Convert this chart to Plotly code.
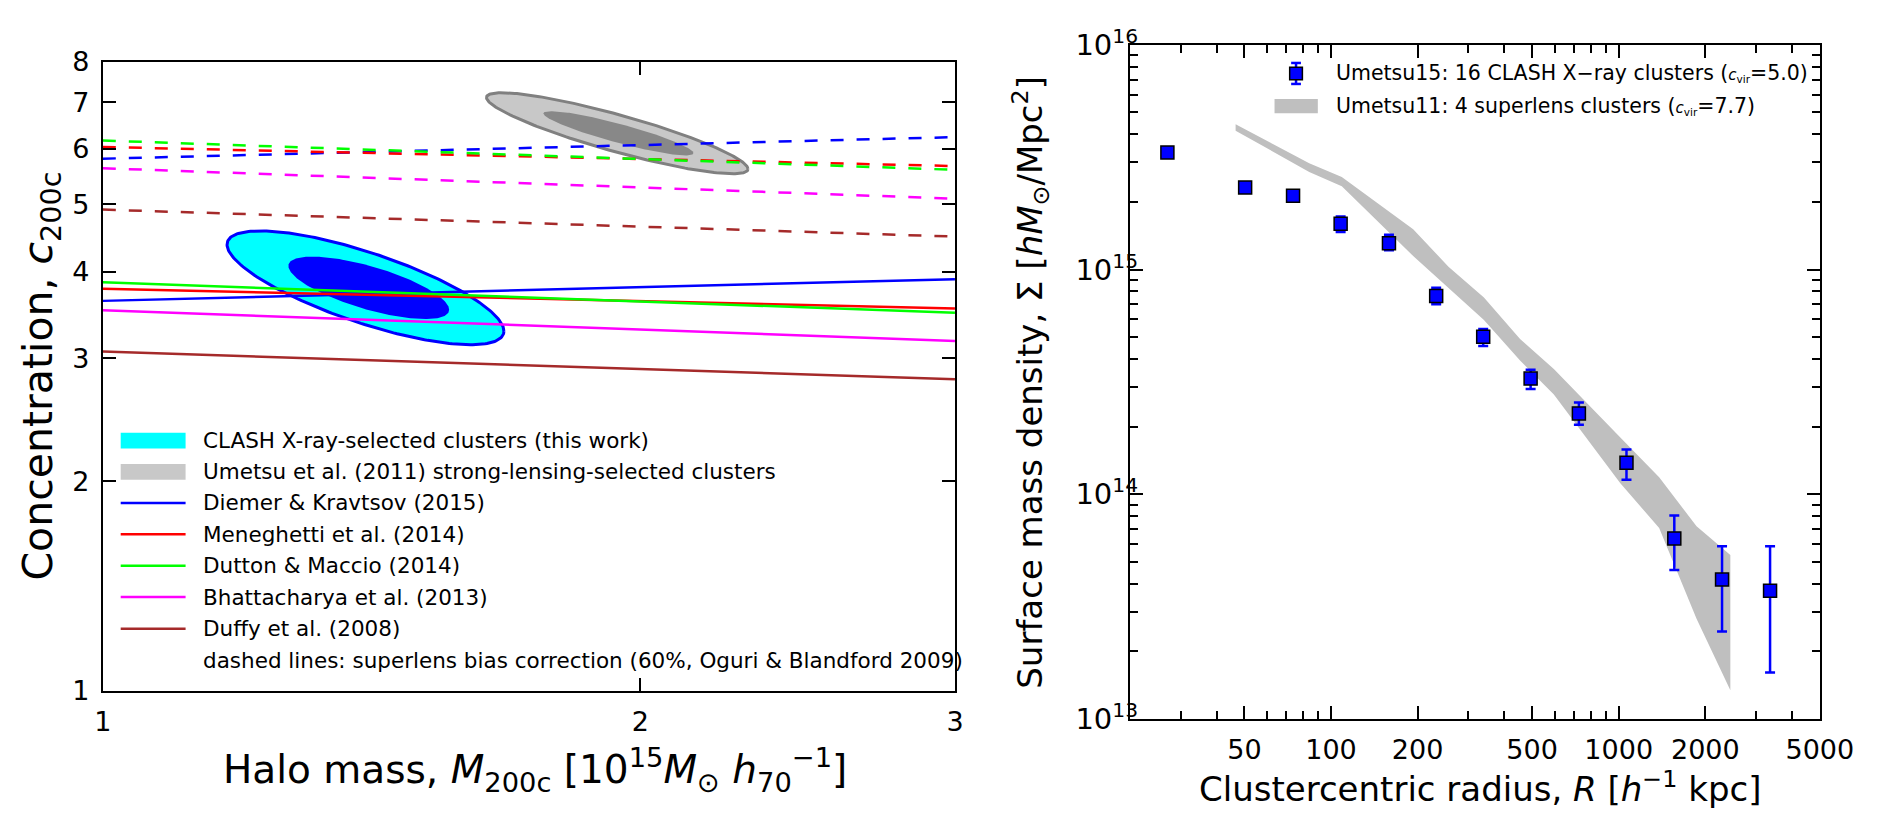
import numpy as np
import plotly.graph_objects as go

W, H = 1890, 823

# ---------------- left panel: concentration-mass relations ----------------
mass_ends = [1.0, 3.0]  # M200c in 10^15 Msun/h70
model_names = [
    "Diemer & Kravtsov (2015)",
    "Meneghetti et al. (2014)",
    "Dutton & Maccio (2014)",
    "Bhattacharya et al. (2013)",
    "Duffy et al. (2008)",
]
model_colors = ["#0000ff", "#ff0000", "#00ff00", "#ff00ff", "#a52a2a"]
c_solid = [[3.63, 3.90], [3.78, 3.54], [3.86, 3.49], [3.52, 3.18], [3.07, 2.80]]
c_dashed = [[5.81, 6.24], [6.04, 5.67], [6.17, 5.60], [5.63, 5.09], [4.91, 4.49]]

# confidence contours: centre (M, c), half-extent in dex along M and c, correlation
clash_outer = dict(m=1.403, c=3.79, dm=0.0775, dc=0.0818, rho=-0.76)
clash_inner = dict(m=1.409, c=3.79, dm=0.0450, dc=0.0449, rho=-0.70)
sl_outer = dict(m=1.941, c=6.32, dm=0.0732, dc=0.0582, rho=-0.882)
sl_inner = dict(m=1.944, c=6.32, dm=0.0420, dc=0.0318, rho=-0.897)

# ---------------- right panel: surface mass density profile ----------------
radius_kpc = [27, 50.3, 73.8, 108, 159, 232, 338, 494, 727, 1064, 1560, 2286, 3357]
sigma = [3.32e15, 2.32e15, 2.13e15, 1.60e15, 1.31e15, 7.62e14, 5.02e14, 3.27e14,
         2.29e14, 1.38e14, 6.36e13, 4.17e13, 3.72e13]
sigma_err_up = [0.10e15, 0.08e15, 0.08e15, 0.12e15, 0.12e15, 0.68e14, 0.42e14, 0.31e14,
                0.27e14, 0.20e14, 1.68e13, 1.70e13, 2.15e13]
sigma_err_down = [0.10e15, 0.08e15, 0.08e15, 0.13e15, 0.09e15, 0.62e14, 0.45e14, 0.33e14,
                  0.25e14, 0.22e14, 1.76e13, 1.72e13, 2.11e13]

band_radius = [46.6, 84, 109, 193, 256, 340, 454, 595, 1013, 1382, 1864, 2443]
band_upper = [4.43e15, 2.97e15, 2.58e15, 1.51e15, 1.03e15, 7.5e14, 4.91e14, 3.61e14,
              1.79e14, 1.19e14, 7.2e13, 5.36e13]
band_lower = [4.15e15, 2.72e15, 2.35e15, 1.15e15, 8.3e14, 5.97e14, 3.94e14, 2.78e14,
              1.12e14, 7.07e13, 2.79e13, 1.34e13]

r_ticks = [50, 100, 200, 500, 1000, 2000, 5000]
r_minor = [30, 40, 60, 70, 80, 90, 300, 400, 600, 700, 800, 900, 3000, 4000]
sigma_ticks = [1e13, 1e14, 1e15, 1e16]
sigma_minor = [k * 10.0 ** n for n in (13, 14, 15) for k in range(2, 10)]

FONT = "DejaVu Sans"
CYAN, BLUE = "#00ffff", "#0000ff"
LGRAY, DGRAY, EDGE = "#c8c8c8", "#888888", "#808080"
BAND = "#bfbfbf"


def ellipse(p, n=240):
    t = np.linspace(0, 2 * np.pi, n)
    lx = np.log10(p["m"]) + p["dm"] * np.cos(t)
    ly = np.log10(p["c"]) + p["dc"] * (p["rho"] * np.cos(t) + np.sqrt(1 - p["rho"] ** 2) * np.sin(t))
    return 10 ** lx, 10 ** ly


fig = go.Figure()

# contours
for p, fill, line in [(clash_outer, CYAN, BLUE), (clash_inner, BLUE, None),
                      (sl_outer, LGRAY, EDGE), (sl_inner, DGRAY, None)]:
    ex, ey = ellipse(p)
    fig.add_trace(go.Scatter(
        x=ex, y=ey, mode="lines", fill="toself", fillcolor=fill,
        line=dict(color=line if line else fill, width=3 if line else 0),
        xaxis="x", yaxis="y", showlegend=False, hoverinfo="skip"))

# model relations: solid = nominal, dashed = superlens-corrected
for name, col, cs, cd in zip(model_names, model_colors, c_solid, c_dashed):
    fig.add_trace(go.Scatter(x=mass_ends, y=cd, mode="lines",
                             line=dict(color=col, width=2.5, dash="13px,13px"),
                             xaxis="x", yaxis="y", showlegend=False, name=name + " (corrected)"))
    fig.add_trace(go.Scatter(x=mass_ends, y=cs, mode="lines",
                             line=dict(color=col, width=2.5),
                             xaxis="x", yaxis="y", showlegend=False, name=name))

# Umetsu11 band
fig.add_trace(go.Scatter(
    x=band_radius + band_radius[::-1], y=band_upper + band_lower[::-1],
    mode="lines", fill="toself", fillcolor=BAND, line=dict(width=0, color=BAND),
    xaxis="x2", yaxis="y2", showlegend=False, name="Umetsu11"))

# Umetsu15 stacked profile
fig.add_trace(go.Scatter(
    x=radius_kpc, y=sigma, mode="markers",
    marker=dict(symbol="square", size=13, color=BLUE, line=dict(color="black", width=1.5)),
    error_y=dict(type="data", symmetric=False, array=sigma_err_up, arrayminus=sigma_err_down,
                 color=BLUE, thickness=2.5, width=5),
    xaxis="x2", yaxis="y2", showlegend=False, name="Umetsu15"))

# ---------------- axes ----------------
def px_x(v):
    return v / W


def px_y(v):
    return 1 - v / H


axis_common = dict(
    showline=True, linecolor="black", linewidth=2, mirror="ticks",
    ticks="inside", tickwidth=1.5, tickcolor="black", showgrid=False, zeroline=False,
    tickfont=dict(family=FONT, size=27, color="black"), ticklabelstandoff=6,
)

fig.update_layout(
    width=W, height=H, margin=dict(l=0, r=0, t=0, b=0),
    paper_bgcolor="white", plot_bgcolor="white",
    font=dict(family=FONT, size=27, color="black"),
    xaxis=dict(axis_common, type="log", range=[0, np.log10(3)],
               domain=[px_x(96), px_x(968)], anchor="y",
               tickmode="array", tickvals=[1, 2, 3], ticktext=["1", "2", "3"], ticklen=13),
    yaxis=dict(axis_common, type="log", range=[0, np.log10(8)],
               domain=[px_y(702), px_y(43)], anchor="x",
               tickmode="array", tickvals=list(range(1, 9)),
               ticktext=[str(v) for v in range(1, 9)], ticklen=13),
    xaxis2=dict(axis_common, type="log", range=[np.log10(20), np.log10(5000)],
                domain=[px_x(1147), px_x(1853)], anchor="y2",
                tickmode="array", tickvals=r_ticks, ticktext=[str(v) for v in r_ticks], ticklen=13,
                minor=dict(tickmode="array", tickvals=r_minor, ticks="inside", ticklen=8,
                           tickwidth=1.5, tickcolor="black", showgrid=False)),
    yaxis2=dict(axis_common, type="log", range=[13, 16],
                domain=[px_y(731.7), px_y(25)], anchor="x2",
                tickfont=dict(family=FONT, size=29, color="black"), ticklabelstandoff=-16,
                tickmode="array", tickvals=sigma_ticks,
                ticktext=["10<sup>%d</sup>" % int(np.log10(v)) for v in sigma_ticks], ticklen=13,
                minor=dict(tickmode="array", tickvals=sigma_minor, ticks="inside", ticklen=8,
                           tickwidth=1.5, tickcolor="black", showgrid=False)),
)

annotations = []
shapes = []


def text(x, y, s, size, anchor="left", angle=0):
    annotations.append(dict(
        x=px_x(x), y=px_y(y), xref="paper", yref="paper", text=s, showarrow=False,
        xanchor=anchor, yanchor="middle", textangle=angle,
        font=dict(family=FONT, size=size, color="black")))


def rect(x0, y0, x1, y1, fill, line=None, lw=0):
    shapes.append(dict(type="rect", xref="paper", yref="paper",
                       x0=px_x(x0), x1=px_x(x1), y0=px_y(y1), y1=px_y(y0),
                       fillcolor=fill, line=dict(color=line or fill, width=lw), layer="above"))


def seg(x0, y0, x1, y1, color, lw):
    shapes.append(dict(type="line", xref="paper", yref="paper",
                       x0=px_x(x0), x1=px_x(x1), y0=px_y(y0), y1=px_y(y1),
                       line=dict(color=color, width=lw), layer="above"))


# axis titles
text(538, 785, "Halo mass, <i>M</i><sub>200c</sub> [10<sup>15</sup><i>M</i><sub>⊙</sub> "
               "<i>h</i><sub>70</sub><sup>−1</sup>]", 39, anchor="center")
text(33, 372.5, "Concentration, <i>c</i><sub>200c</sub>", 41, anchor="center", angle=-90)
text(1505, 803, "Clustercentric radius, <i>R</i> [<i>h</i><sup>−1</sup> kpc]", 34, anchor="center")
text(1045, 379, "Surface mass density, Σ [<i>hM</i><sub>⊙</sub>/Mpc<sup>2</sup>]", 34,
     anchor="center", angle=-90)

# left legend
leg_y = [440, 472.7, 505.3, 538, 571, 604, 637.3, 670]
leg_labels = ["CLASH X-ray-selected clusters (this work)",
              "Umetsu et al. (2011) strong-lensing-selected clusters"] + model_names + \
             ["dashed lines: superlens bias correction (60%, Oguri & Blandford 2009)"]
rect(114.3, leg_y[0] - 8.3, 180.7, leg_y[0] + 8.3, CYAN)
rect(114.3, leg_y[1] - 8.3, 180.7, leg_y[1] + 8.3, LGRAY)
for yy, col in zip(leg_y[2:7], model_colors):
    seg(114.3, yy, 180.7, yy, col, 2.5)
for yy, lab in zip(leg_y, leg_labels):
    text(196.7, yy, lab, 21.5)

# right legend
seg(1317, 44, 1317, 66, BLUE, 2.5)
seg(1312, 44, 1322, 44, BLUE, 2.5)
seg(1312, 66, 1322, 66, BLUE, 2.5)
rect(1310.5, 48.5, 1323.5, 61.5, BLUE, "black", 1.5)
rect(1295, 81.7, 1339.3, 96.7, BAND)
text(1356, 54, "Umetsu15: 16 CLASH X−ray clusters (<span style='font-size:15px'><i>c</i>"
               "<sub>vir</sub></span>=5.0)", 20.5)
text(1356, 89, "Umetsu11: 4 superlens clusters (<span style='font-size:15px'><i>c</i>"
               "<sub>vir</sub></span>=7.7)", 20.5)

fig.update_layout(annotations=annotations, shapes=shapes)
fig.write_html("out.html")
